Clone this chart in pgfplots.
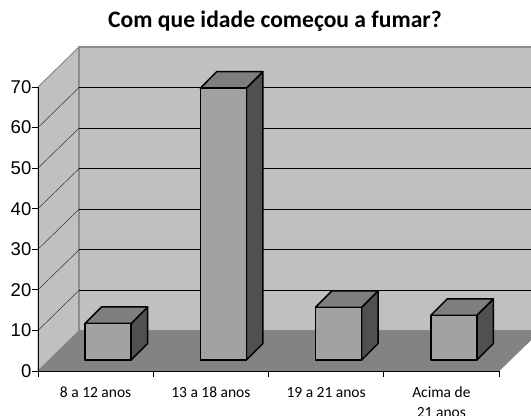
\documentclass[border=0pt]{standalone}
\usepackage{pgfplots}
\pgfplotsset{compat=1.18}
\usepackage{pgfplotstable}
\usepackage{fontspec}
\setmainfont{Carlito}
\newfontfamily\arialfont{Liberation Sans}

\definecolor{wallc}{HTML}{C0C0C0}
\definecolor{wallline}{HTML}{8C8C8C}
\definecolor{floorc}{HTML}{838383}
\definecolor{frontc}{HTML}{A2A2A2}
\definecolor{topc}{HTML}{7E7E7E}
\definecolor{sidec}{HTML}{505050}

% percentages per age group
\pgfplotstableread{
pos v
0 9
1 67
2 13
3 11
}\agedata

\begin{document}
\begin{tikzpicture}
\begin{axis}[
  at={(0,0)}, anchor=south west,
  scale only axis, width=461bp, height=284bp,
  xmin=0, xmax=4, ymin=0, ymax=70,
  clip=false, axis on top,
  axis lines*=left,
  axis line style={black, line width=0.8bp},
  every axis plot/.append style={mark=none},
  xtick={0,1,2,3,4},
  xticklabels={\strut 8 a 12 anos, \strut 13 a 18 anos, \strut 19 a 21 anos, {\strut Acima de\\\strut 21 anos}},
  x tick label as interval,
  xticklabel style={align=center, font=\fontsize{15.5bp}{20bp}\selectfont, inner sep=0pt, anchor=north, yshift=-7bp},
  ytick={0,10,...,70},
  yticklabel style={font=\arialfont\fontsize{18.5bp}{20bp}\selectfont, inner sep=1bp},
  /pgf/number format/assume math mode=true,
  tick align=outside,
  major tick length=5.5bp,
  tick style={black, line width=0.8bp},
]
% walls and floor
\addplot[fill=wallc, draw=wallline, line width=1bp] coordinates {(0,0) (0.3557,9.86) (0.3557,79.86) (0,70)} -- cycle;
\addplot[fill=wallc, draw=wallline, line width=1.4bp] coordinates {(0.3557,9.86) (4.3557,9.86) (4.3557,79.86) (0.3557,79.86)} -- cycle;
\addplot[fill=floorc, draw=floorc, line width=0.5bp] coordinates {(0,0) (4,0) (4.3557,9.86) (0.3557,9.86)} -- cycle;
% grid lines on back and side walls
\pgfplotsinvokeforeach{10,20,30,40,50,60}{
  \pgfmathsetmacro\gy{#1+9.86}
  \edef\drawgrid{%
    \noexpand\addplot[black, line width=1bp] coordinates {(0.3557,\gy) (4.3557,\gy)};
    \noexpand\addplot[black!80, line width=0.5bp] coordinates {(0,#1) (0.3557,\gy)};
  }\drawgrid
}
% bars
\pgfplotsinvokeforeach{0,1,2,3}{
  \pgfplotstablegetelem{#1}{v}\of\agedata
  \let\vv\pgfplotsretval
  \pgfmathsetmacro\va{\vv+2.71}
  \pgfmathsetmacro\vb{\vv+6.78}
  \pgfmathsetmacro\xa{#1+0.408}
  \pgfmathsetmacro\xb{#1+0.808}
  \pgfmathsetmacro\xc{#1+0.551}
  \pgfmathsetmacro\xd{#1+0.951}
  \edef\drawbar{%
    \noexpand\addplot[fill=sidec, draw=black, line width=1.5bp, line join=round] coordinates {(\xb,2.71) (\xd,6.78) (\xd,\vb) (\xb,\va)} -- cycle;
    \noexpand\addplot[fill=topc, draw=black, line width=1.5bp, line join=round] coordinates {(\xa,\va) (\xc,\vb) (\xd,\vb) (\xb,\va)} -- cycle;
    \noexpand\addplot[fill=frontc, draw=black, line width=1.5bp, line join=round] coordinates {(\xa,2.71) (\xb,2.71) (\xb,\va) (\xa,\va)} -- cycle;
    \noexpand\addplot[black, line width=2.6bp] coordinates {(\xa,2.71) (\xb,2.71)};
  }\drawbar
}
\end{axis}
\node[anchor=base, font=\bfseries\fontsize{23.6bp}{28bp}\selectfont] at (237bp,343bp) {Com que idade começou a fumar?};
\pgfresetboundingbox
\path[use as bounding box] (-38bp,-45bp) rectangle (493bp,371bp);
\end{tikzpicture}
\end{document}
